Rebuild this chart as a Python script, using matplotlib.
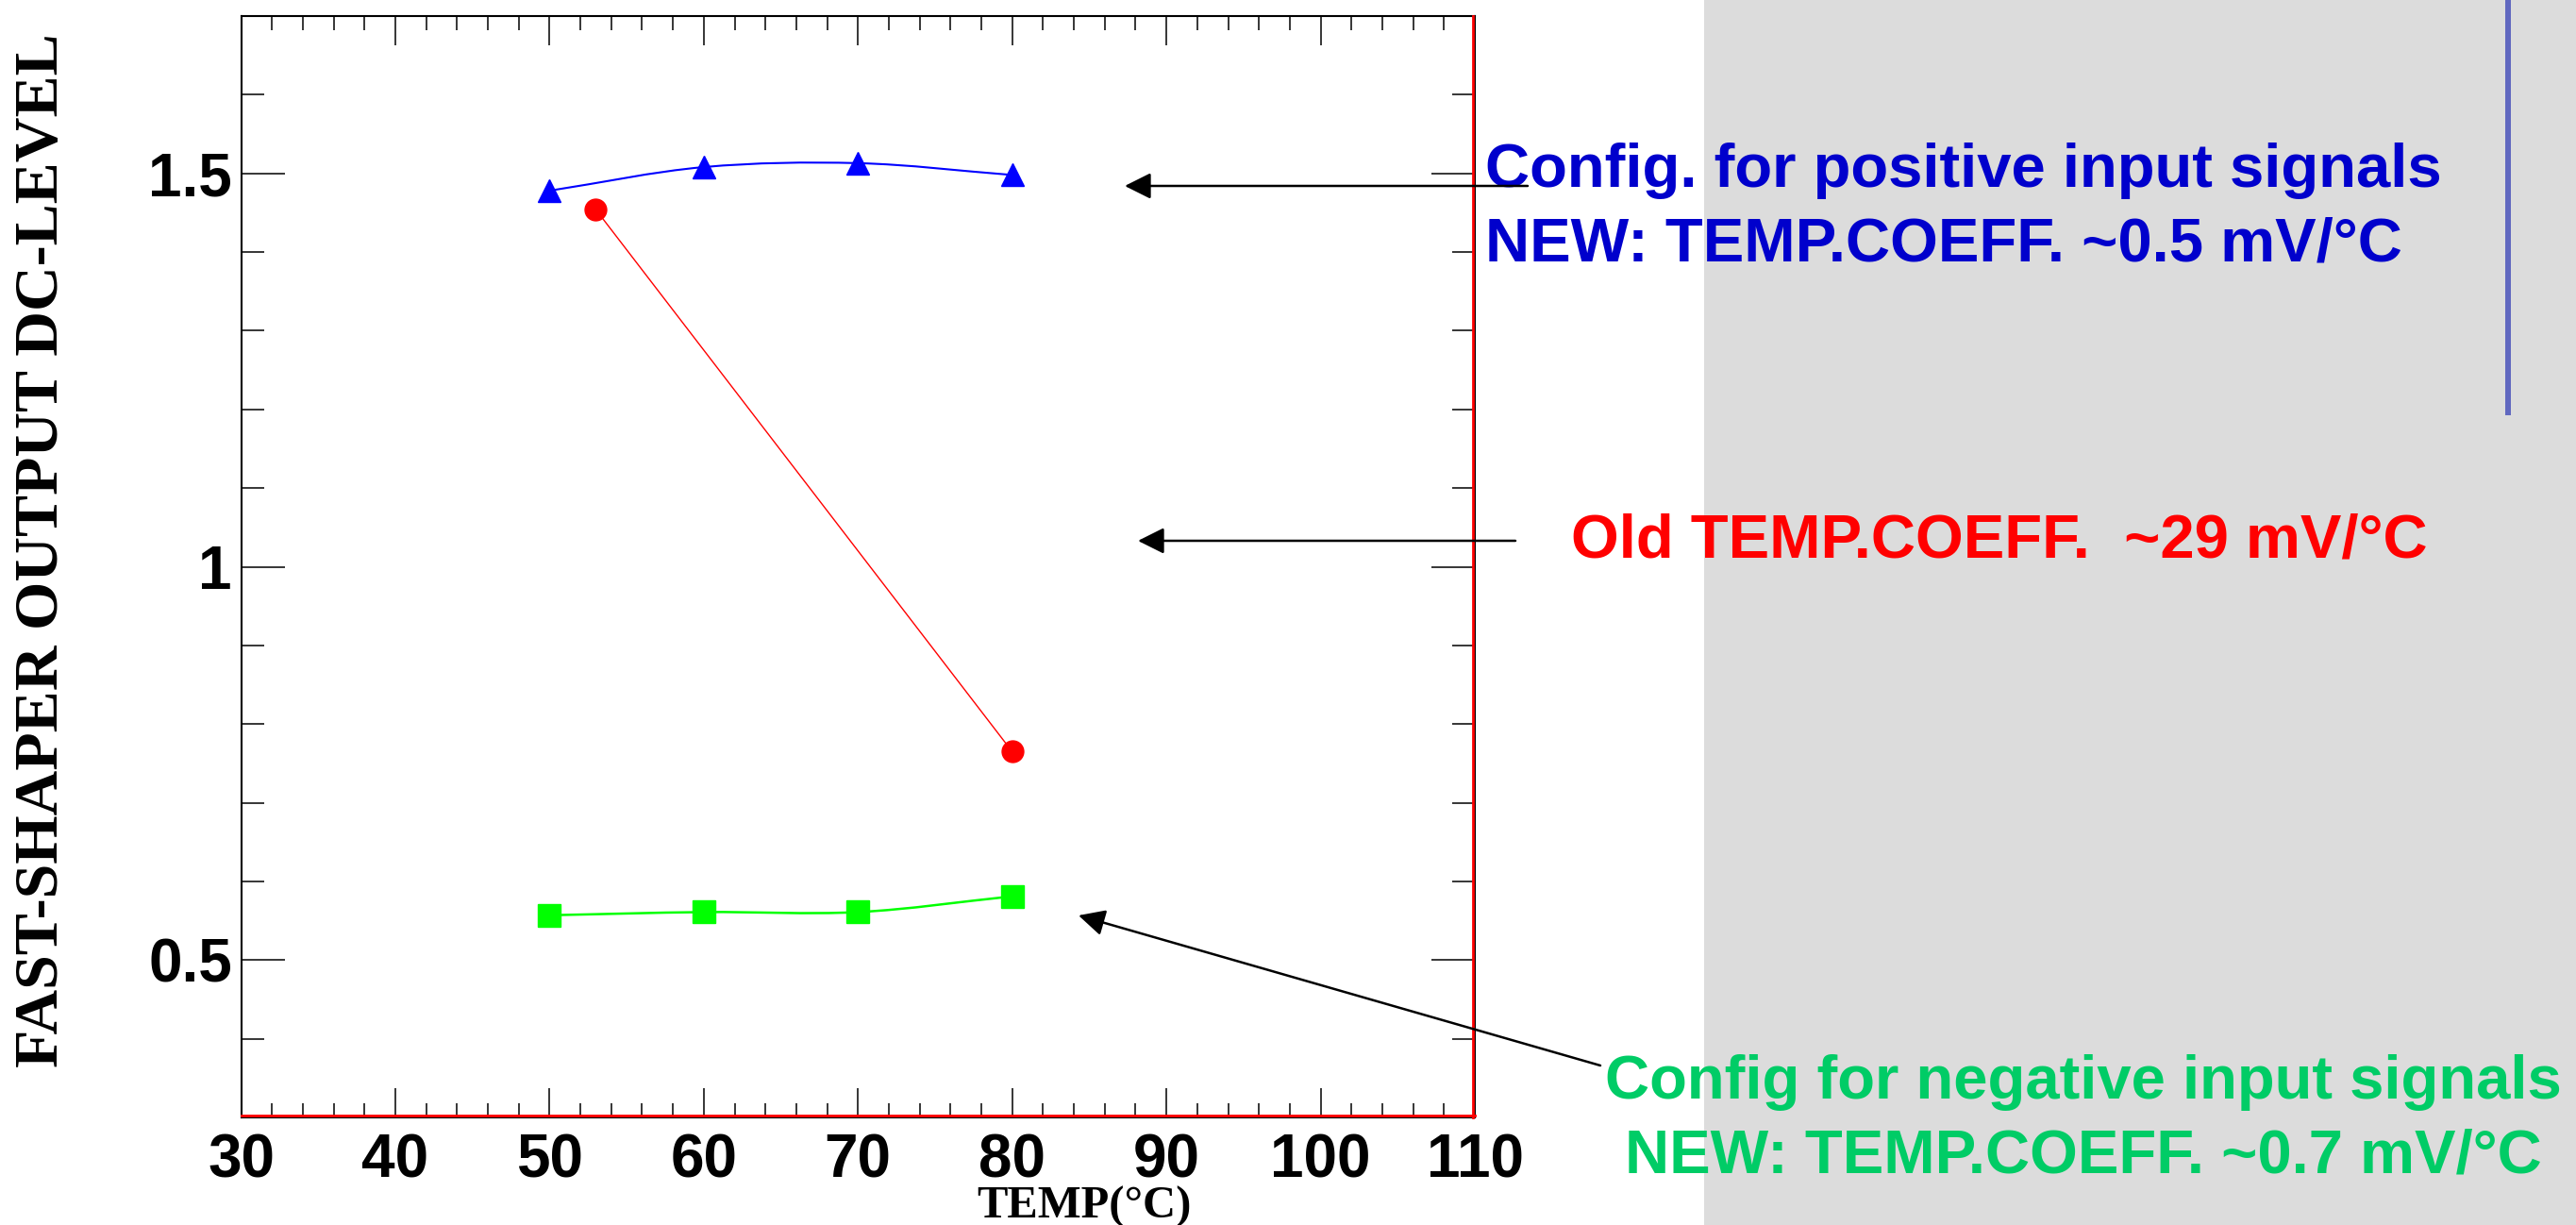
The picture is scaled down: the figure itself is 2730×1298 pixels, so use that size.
import numpy as np
import matplotlib
matplotlib.use('Agg')
import matplotlib.pyplot as plt
import matplotlib.transforms as mtransforms
from matplotlib.path import Path
from matplotlib.patches import PathPatch, Rectangle, FancyArrowPatch
from matplotlib.lines import Line2D
from matplotlib.ticker import MultipleLocator, FixedLocator, FixedFormatter

# data
temp_pos = [50, 60, 70, 80]
level_pos = [1.478, 1.508, 1.513, 1.498]
temp_old = [53, 80]
level_old = [1.454, 0.765]
temp_neg = [50, 60, 70, 80]
level_neg = [0.557, 0.561, 0.561, 0.581]

xtick_vals = [30, 40, 50, 60, 70, 80, 90, 100, 110]
ytick_vals = [0.5, 1.0, 1.5]
ytick_labels = ['0.5', '1', '1.5']

W, H = 2730, 1298


def fig_xy(px, py):
    # pixel position (from top-left) -> figure fraction
    return px / W, 1 - py / H


def smooth_path(x, y):
    # Catmull-Rom style curve through the points, as cubic bezier pieces
    x = np.asarray(x, float)
    y = np.asarray(y, float)
    dx = np.gradient(x)
    dy = np.gradient(y)
    verts = [(x[0], y[0])]
    codes = [Path.MOVETO]
    for i in range(len(x) - 1):
        verts += [(x[i] + dx[i] / 3, y[i] + dy[i] / 3),
                  (x[i + 1] - dx[i + 1] / 3, y[i + 1] - dy[i + 1] / 3),
                  (x[i + 1], y[i + 1])]
        codes += [Path.CURVE4] * 3
    return Path(verts, codes)


fig = plt.figure(figsize=(W / 100, H / 100), dpi=100)
fig.patch.set_facecolor('white')

# grey slide panel on the right
x0, _ = fig_xy(1806, 0)
fig.add_artist(Rectangle((x0, 0), 1 - x0, 1, transform=fig.transFigure,
                         facecolor='#dcdcdc', edgecolor='none', zorder=0))
lx, ly = fig_xy(2658, 437)
fig.add_artist(Line2D([lx, lx], [1, ly], transform=fig.transFigure,
                      color='#6068c0', lw=4.3, zorder=1))

left, right = 255.5 / W, 1563 / W
bottom, top = 1 - 1184 / H, 1 - 17 / H
ax = fig.add_axes([left, bottom, right - left, top - bottom])
ax.set_facecolor('white')

# curves
ax.add_patch(PathPatch(smooth_path(temp_pos, level_pos), facecolor='none',
                       edgecolor='blue', lw=1.5, zorder=3))
ax.plot(temp_pos, level_pos, ls='none', marker='^', ms=17, color='blue', zorder=4)

ax.plot(temp_old, level_old, color='red', lw=1.0, zorder=3)
ax.plot(temp_old, level_old, ls='none', marker='o', ms=16.5, color='red', zorder=4)

ax.add_patch(PathPatch(smooth_path(temp_neg, level_neg), facecolor='none',
                       edgecolor='#00ff00', lw=1.8, zorder=3))
ax.plot(temp_neg, level_neg, ls='none', marker='s', ms=17.5, color='#00ff00', zorder=4)

ax.set_xlim(30, 110)
ax.set_ylim(0.3, 1.7)
ax.xaxis.set_major_locator(FixedLocator(xtick_vals))
ax.xaxis.set_minor_locator(MultipleLocator(2))
ax.yaxis.set_major_locator(FixedLocator(ytick_vals))
ax.yaxis.set_major_formatter(FixedFormatter(ytick_labels))
ax.yaxis.set_minor_locator(MultipleLocator(0.1))

ax.tick_params(which='both', direction='in', top=True, right=True, color='black', width=1.1)
ax.tick_params(axis='x', which='major', length=22, pad=12)
ax.tick_params(axis='x', which='minor', length=11)
ax.tick_params(axis='y', which='major', length=33, pad=7)
ax.tick_params(axis='y', which='minor', length=17)

for lab in ax.get_xticklabels() + ax.get_yticklabels():
    lab.set_fontfamily('Liberation Sans')
    lab.set_fontweight('bold')
    lab.set_fontsize(46)

for s in ax.spines.values():
    s.set_color('black')
    s.set_linewidth(1.5)

# red edge along bottom and right frame
off_b = mtransforms.offset_copy(ax.transAxes, fig=fig, x=0, y=2.5, units='dots')
off_r = mtransforms.offset_copy(ax.transAxes, fig=fig, x=-2.5, y=0, units='dots')
ax.plot([0, 1], [0, 0], transform=off_b, color='red', lw=2, clip_on=False, zorder=5)
ax.plot([1, 1], [0, 1], transform=off_r, color='red', lw=2, clip_on=False, zorder=5)

# axis titles
tx, ty = fig_xy(44.6, 583)
fig.text(tx, ty, 'FAST-SHAPER OUTPUT DC-LEVEL', rotation=90, ha='center', va='center',
         family='Liberation Serif', weight='bold', fontsize=47.5)
tx, ty = fig_xy(1149, 1291)
fig.text(tx, ty, 'TEMP(°C)', ha='center', va='baseline',
         family='Liberation Serif', weight='bold', fontsize=35)

# annotation texts
notes = [
    ('Config. for positive input signals', 1574, 198, '#0000cc'),
    ('NEW: TEMP.COEFF. ~0.5 mV/°C', 1574, 277, '#0000cc'),
    ('Old TEMP.COEFF.  ~29 mV/°C', 1665, 590, '#ff0000'),
    ('Config for negative input signals', 1701, 1164, '#00cc66'),
    ('NEW: TEMP.COEFF. ~0.7 mV/°C', 1722, 1243, '#00cc66'),
]
for txt, px, py, col in notes:
    nx, ny = fig_xy(px, py)
    fig.text(nx, ny, txt, ha='left', va='baseline', color=col,
             family='Liberation Sans', weight='bold', fontsize=47, zorder=5)

# arrows (tail -> tip, in pixels)
arrows = [((1619, 197), (1192, 197)),
          ((1606, 573), (1206, 573)),
          ((1696, 1129), (1143, 970))]
for tail, tip in arrows:
    fig.add_artist(FancyArrowPatch(fig_xy(*tail), fig_xy(*tip), transform=fig.transFigure,
                                   arrowstyle='-|>,head_length=17,head_width=8.5',
                                   mutation_scale=1, lw=1.8, color='black',
                                   shrinkA=0, shrinkB=0, zorder=6))

fig.savefig('out.png', dpi=100)
